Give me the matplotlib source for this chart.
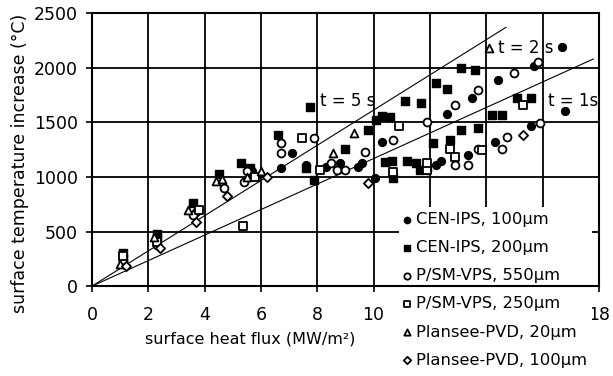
import matplotlib
matplotlib.use("Agg")
import matplotlib.pyplot as plt

plt.rcParams['font.family'] = ['DejaVu Sans']

# ---- data ----
cen100_x = [1.1, 2.3, 3.7, 5.7, 6.7, 7.1, 7.6, 8.3, 8.8, 9.45, 9.6, 10.05, 10.3, 12.2, 12.4, 12.6,
            13.35, 13.5, 14.3, 14.4, 15.6, 15.7, 16.7, 16.8]
cen100_y = [220, 420, 680, 1050, 1080, 1220, 1110, 1090, 1130, 1090, 1130, 990, 1320, 1110, 1150, 1580,
            1200, 1720, 1320, 1890, 1470, 2020, 2190, 1600]

cen200_x = [1.1, 1.1, 2.3, 2.3, 3.6, 4.5, 5.3, 5.6, 6.6, 7.75, 7.6, 7.9, 9.0, 9.8, 10.4, 10.65, 10.7,
            10.1, 10.6, 10.3, 11.1, 11.7, 11.2, 11.5, 11.65, 12.1, 12.2, 12.6, 12.7, 13.1, 13.6, 13.1,
            13.7, 14.2, 14.55, 15.1, 15.6]
cen200_y = [300, 260, 480, 440, 760, 1030, 1130, 1080, 1380, 1640, 1080, 970, 1260, 1430, 1135, 1150, 990,
            1520, 1550, 1560, 1700, 1675, 1150, 1130, 1060, 1310, 1860, 1810, 1340, 2000, 1980, 1430,
            1450, 1570, 1570, 1720, 1720]

psm550_x = [1.1, 2.3, 3.6, 4.7, 5.4, 5.5, 6.7, 6.7, 7.9, 8.5, 8.7, 9.0, 9.7, 10.7, 11.9, 11.9, 12.9,
            12.9, 13.35, 13.7, 13.7, 14.55, 14.75, 15.0, 15.85, 15.9]
psm550_y = [240, 380, 650, 900, 950, 1050, 1310, 1220, 1360, 1130, 1060, 1060, 1230, 1340, 1500, 1060, 1660,
            1110, 1110, 1800, 1260, 1260, 1365, 1950, 2050, 1490]

psm250_x = [1.1, 2.3, 3.8, 5.35, 5.8, 7.45, 8.1, 10.9, 10.7, 11.9, 11.9, 12.7, 12.9, 13.85, 15.3]
psm250_y = [280, 400, 700, 550, 1000, 1360, 1060, 1465, 1045, 1060, 1130, 1260, 1180, 1245, 1660]

pvd20_x = [1.0, 2.2, 3.4, 4.4, 4.6, 5.5, 6.0, 8.55, 9.3, 14.1]
pvd20_y = [200, 450, 700, 960, 980, 1000, 1050, 1220, 1400, 2180]

pvd100_x = [1.2, 2.4, 3.7, 4.8, 6.2, 9.8, 15.3]
pvd100_y = [180, 350, 590, 830, 1000, 940, 1380]

# model lines
t5_x = [0, 14.7]
t5_y = [0, 2370]
t1_x = [0, 17.8]
t1_y = [0, 2080]

x_ticks = [0, 2, 4, 6, 8, 10, 12, 14, 16, 18]
# 12, 14 and 16 are hidden behind the legend in the original
x_tick_labels = ['0', '2', '4', '6', '8', '10', '', '', '', '18']
y_ticks = [0, 500, 1000, 1500, 2000, 2500]

# ---- figure ----
fig = plt.figure(figsize=(6.13, 3.76), dpi=100)
ax = fig.add_axes([0.150, 0.239, 0.827, 0.726])

ax.plot(t5_x, t5_y, color='black', lw=0.8, zorder=2)
ax.plot(t1_x, t1_y, color='black', lw=0.8, zorder=2)

ms = 32
ax.scatter(cen100_x, cen100_y, s=ms, marker='o', facecolor='black', edgecolor='black', lw=1,
           label='CEN-IPS, 100µm', zorder=3)
ax.scatter(cen200_x, cen200_y, s=ms, marker='s', facecolor='black', edgecolor='black', lw=1,
           label='CEN-IPS, 200µm', zorder=3)
ax.scatter(psm550_x, psm550_y, s=ms, marker='o', facecolor='white', edgecolor='black', lw=1.3,
           label='P/SM-VPS, 550µm', zorder=3)
ax.scatter(psm250_x, psm250_y, s=ms, marker='s', facecolor='white', edgecolor='black', lw=1.3,
           label='P/SM-VPS, 250µm', zorder=3)
ax.scatter(pvd20_x, pvd20_y, s=ms, marker='^', facecolor='white', edgecolor='black', lw=1.3,
           label='Plansee-PVD, 20µm', zorder=3)
ax.scatter(pvd100_x, pvd100_y, s=22, marker='D', facecolor='white', edgecolor='black', lw=1.3,
           label='Plansee-PVD, 100µm', zorder=3)

ax.text(8.1, 1700, 't = 5 s', fontsize=12, va='center', ha='left')
ax.text(14.4, 2180, 't = 2 s', fontsize=12, va='center', ha='left')
ax.text(16.2, 1700, 't = 1s', fontsize=12, va='center', ha='left')

ax.set_xlim(0, 18)
ax.set_ylim(0, 2500)
ax.set_xticks(x_ticks)
ax.set_xticklabels(x_tick_labels)
ax.set_yticks(y_ticks)
ax.tick_params(labelsize=12.5, direction='out', length=4, width=1.2, color='black')
ax.tick_params(axis='x', pad=10)
ax.tick_params(axis='y', pad=6)
ax.grid(True, color='black', lw=1.3)
ax.set_axisbelow(True)
for sp in ax.spines.values():
    sp.set_linewidth(1.5)
    sp.set_zorder(6)

ax.set_xlabel('surface heat flux (MW/m²)', fontsize=11.5, labelpad=6, x=0.312)
ax.set_ylabel('surface temperature increase (°C)', fontsize=12.5, labelpad=4, y=0.45)

leg = ax.legend(loc='upper left', fontsize=11.8,
                frameon=True, handlelength=0.4, handletextpad=0.3, labelspacing=0.8,
                borderpad=0.3, markerscale=0.8)
leg.set_bbox_to_anchor((391 / 613, 1 - 199 / 376), transform=fig.transFigure)
leg.get_frame().set_edgecolor('none')
leg.get_frame().set_facecolor('white')
leg.get_frame().set_alpha(1)
leg.get_frame().set_boxstyle('square', pad=0)
leg.set_zorder(5)

fig.savefig('out.png', dpi=100)
